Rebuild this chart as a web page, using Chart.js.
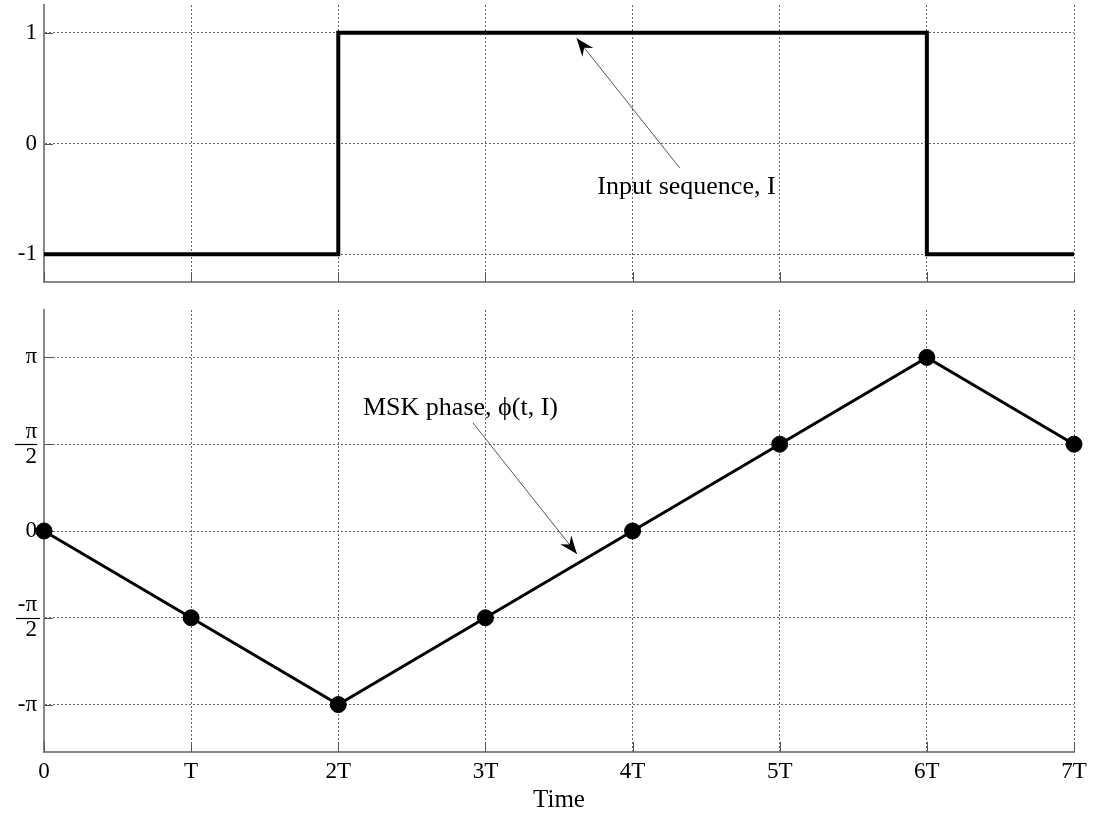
<!DOCTYPE html>
<html>
<head>
<meta charset="utf-8">
<script src="https://cdn.jsdelivr.net/npm/chart.js@4"></script>
<style>
  body { margin: 0; background: #fff; }
  canvas { position: absolute; left: 0; }
  #topChart { top: 0; }
  #bottomChart { top: 300px; }
</style>
</head>
<body>
<canvas id="topChart" width="1093" height="290"></canvas>
<canvas id="bottomChart" width="1093" height="514"></canvas>
<script>
// data
const timeTicks = [0, 1, 2, 3, 4, 5, 6, 7];
const timeLabels = ['0', 'T', '2T', '3T', '4T', '5T', '6T', '7T'];
const inputValues = [-1, -1, 1, 1, 1, 1, -1, -1];
const inputTicks = [-1, 0, 1];
const PI = Math.PI;
const phaseValues = [0, -PI / 2, -PI, -PI / 2, 0, PI / 2, PI, PI / 2];
const phaseTicks = [-PI, -PI / 2, 0, PI / 2, PI];
const phaseTickLabels = ['-π', ['-π', '2'], '0', ['π', '2'], 'π'];

Chart.defaults.font.family = "'Liberation Serif', 'Times New Roman', serif";
Chart.defaults.color = '#000';

const gridColor = '#666';
const axisColor = '#888';

function arrow(ctx, x1, y1, x2, y2) {
  ctx.save();
  ctx.strokeStyle = '#555';
  ctx.lineWidth = 1;
  ctx.beginPath();
  ctx.moveTo(x1, y1);
  ctx.lineTo(x2, y2);
  ctx.stroke();
  const a = Math.atan2(y2 - y1, x2 - x1);
  ctx.translate(x2, y2);
  ctx.rotate(a);
  ctx.beginPath();
  ctx.moveTo(0, 0);
  ctx.lineTo(-18, -7);
  ctx.lineTo(-12, 0);
  ctx.lineTo(-18, 7);
  ctx.closePath();
  ctx.fillStyle = '#000';
  ctx.fill();
  ctx.restore();
}

// tick marks, fraction bars, notes
const marks = {
  id: 'marks',
  beforeDatasetsDraw(chart) {
    const ctx = chart.ctx, a = chart.chartArea;
    const xs = chart.scales.x, ys = chart.scales.y;
    ctx.save();
    ctx.strokeStyle = '#555';
    ctx.lineWidth = 1;
    ctx.beginPath();
    xs.ticks.forEach(t => {
      const px = Math.round(xs.getPixelForValue(t.value)) + 0.5;
      ctx.moveTo(px, a.bottom);
      ctx.lineTo(px, a.bottom - 10);
    });
    ys.ticks.forEach(t => {
      const py = Math.round(ys.getPixelForValue(t.value)) + 0.5;
      ctx.moveTo(a.left, py);
      ctx.lineTo(a.left + 9, py);
    });
    ctx.stroke();
    ctx.restore();
  },
  afterDraw(chart, args, opts) {
    const ctx = chart.ctx;
    const xs = chart.scales.x, ys = chart.scales.y;
    ctx.save();
    // fraction bars on the y labels
    ys.ticks.forEach(t => {
      if (Array.isArray(t.label)) {
        const py = Math.round(ys.getPixelForValue(t.value)) + 0.5;
        ctx.strokeStyle = '#000';
        ctx.lineWidth = 1.2;
        ctx.beginPath();
        ctx.moveTo(t.label[0].length > 1 ? 16 : 15, py);
        ctx.lineTo(t.label[0].length > 1 ? 40 : 37, py);
        ctx.stroke();
      }
    });
    (opts.notes || []).forEach(n => {
      arrow(ctx, xs.getPixelForValue(n.from[0]), ys.getPixelForValue(n.from[1]),
        xs.getPixelForValue(n.to[0]), ys.getPixelForValue(n.to[1]));
      ctx.fillStyle = '#000';
      ctx.font = "26px 'Liberation Serif'";
      ctx.textAlign = 'left';
      ctx.textBaseline = 'middle';
      ctx.fillText(n.text, xs.getPixelForValue(n.at[0]), ys.getPixelForValue(n.at[1]));
    });
    ctx.restore();
  }
};

function xScale(showLabels, height) {
  return {
    type: 'linear',
    min: 0,
    max: 7,
    afterBuildTicks: s => { s.ticks = timeTicks.map(v => ({ value: v })); },
    afterFit: s => { s.height = height; s.paddingLeft = 0; s.paddingRight = 0; },
    ticks: {
      display: showLabels,
      padding: 6,
      font: { size: 23 },
      callback: (v) => timeLabels[timeTicks.indexOf(v)]
    },
    grid: { color: gridColor, lineWidth: 1, drawTicks: false },
    border: { display: true, color: axisColor, width: 2, dash: [2, 2] },
    title: {
      display: showLabels,
      text: 'Time',
      font: { size: 25, lineHeight: 1 },
      padding: { top: 0, bottom: 1 }
    }
  };
}

function yScale(min, max, ticks, labels) {
  return {
    type: 'linear',
    min: min,
    max: max,
    afterBuildTicks: s => { s.ticks = ticks.map(v => ({ value: v })); },
    afterFit: s => { s.width = 44; s.paddingTop = 0; s.paddingBottom = 0; },
    ticks: {
      padding: 7,
      font: { size: 23, lineHeight: 1.1 },
      callback: (v) => labels[ticks.indexOf(v)]
    },
    grid: { color: gridColor, lineWidth: 1, drawTicks: false },
    border: { display: true, color: axisColor, width: 2, dash: [2, 2] }
  };
}

new Chart(document.getElementById('topChart'), {
  type: 'line',
  data: {
    datasets: [{
      data: timeTicks.map((t, i) => ({ x: t, y: inputValues[i] })),
      stepped: 'before',
      borderColor: '#000',
      borderWidth: 4,
      pointRadius: 0,
      clip: false
    }]
  },
  options: {
    responsive: false,
    animation: false,
    layout: { padding: { top: 5, right: 19, left: 0, bottom: 0 } },
    plugins: {
      legend: { display: false },
      tooltip: { enabled: false },
      marks: {
        notes: [{ text: 'Input sequence, I', at: [3.76, -0.39], from: [4.32, -0.22], to: [3.62, 0.95] }]
      }
    },
    scales: { x: xScale(false, 8), y: yScale(-1.25, 1.25, inputTicks, inputTicks.map(String)) }
  },
  plugins: [marks]
});

new Chart(document.getElementById('bottomChart'), {
  type: 'line',
  data: {
    datasets: [{
      data: timeTicks.map((t, i) => ({ x: t, y: phaseValues[i] })),
      borderColor: '#000',
      borderWidth: 3,
      pointRadius: 8,
      pointBackgroundColor: '#000',
      pointBorderColor: '#000',
      pointBorderWidth: 1,
      clip: false
    }]
  },
  options: {
    responsive: false,
    animation: false,
    layout: { padding: { top: 10, right: 19, left: 0, bottom: 0 } },
    plugins: {
      legend: { display: false },
      tooltip: { enabled: false },
      marks: {
        notes: [{ text: 'MSK phase, \u03d5(t, I)', at: [2.168, 2.226], from: [2.916, 1.955], to: [3.622, -0.416] }]
      }
    },
    scales: { x: xScale(true, 62), y: yScale(-4, 4, phaseTicks, phaseTickLabels) }
  },
  plugins: [marks]
});
</script>
</body>
</html>
